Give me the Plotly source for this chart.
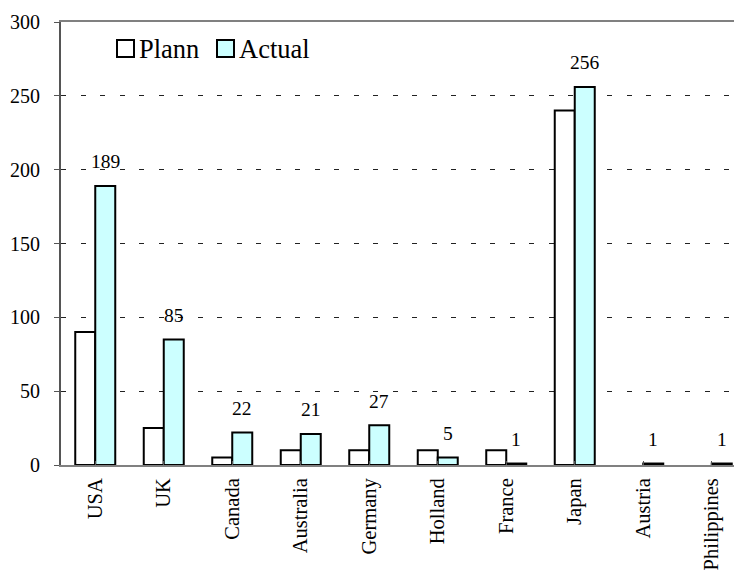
import plotly.graph_objects as go

categories = ["USA", "UK", "Canada", "Australia", "Germany", "Holland", "France", "Japan", "Austria", "Philippines"]
plann = [90, 25, 5, 10, 10, 10, 10, 240, 0, 0]
actual = [189, 85, 22, 21, 27, 5, 1, 256, 1, 1]
y_ticks = [0, 50, 100, 150, 200, 250, 300]

FONT = "'Times New Roman', 'Liberation Serif', 'DejaVu Serif', serif"
BW = 0.292  # bar width in category units

xs = list(range(len(categories)))

fig = go.Figure()
fig.add_trace(go.Bar(
    x=xs, y=[v if v else None for v in plann], name="Plann", width=BW, offset=-BW,
    marker=dict(color="white", line=dict(color="black", width=2)),
))
fig.add_trace(go.Bar(
    x=xs, y=[v if v else None for v in actual], name="Actual", width=BW, offset=0,
    marker=dict(color="#CCFFFF", line=dict(color="black", width=2)),
))

for i, v in enumerate(actual):
    fig.add_annotation(
        x=i + BW / 2, y=v, text=str(v), showarrow=False,
        yanchor="middle", yshift=24,
        font=dict(family=FONT, size=19.5, color="black"),
    )

# manual legend
legend_items = [("Plann", "white", 117, 137), ("Actual", "#CCFFFF", 217, 237)]
for name, col, sx, tx in legend_items:
    fig.add_shape(type="rect", xref="paper", yref="paper",
                  x0=(sx - 61) / 673, x1=(sx + 17 - 61) / 673,
                  y0=(465 - 57) / 443, y1=(465 - 40) / 443,
                  line=dict(color="black", width=2), fillcolor=col)
    fig.add_annotation(xref="paper", yref="paper",
                       x=(tx - 61) / 673, y=(465 - 49) / 443,
                       text=name, showarrow=False, xanchor="left", yanchor="middle",
                       font=dict(family=FONT, size=26.5, color="black"))

fig.update_layout(
    width=734, height=573,
    margin=dict(l=61, r=0, t=22, b=108, autoexpand=False),
    paper_bgcolor="white", plot_bgcolor="white",
    showlegend=False,
    font=dict(family=FONT, color="black"),
    barmode="overlay",
    xaxis=dict(
        range=[-0.5, -0.5 + 673 / 68.5],
        tickmode="array", tickvals=xs, ticktext=categories,
        tickangle=-90, tickfont=dict(family=FONT, size=20.5, color="black"),
        ticklabelstandoff=3, automargin=False,
        showline=True, linecolor="#808080", linewidth=2, mirror=True,
        ticks="inside", ticklen=4, tickcolor="#555555", tickson="boundaries",
        showgrid=False, zeroline=False,
    ),
    yaxis=dict(
        range=[0, 300], tickvals=y_ticks, automargin=False,
        tickfont=dict(family=FONT, size=20, color="black"),
        showline=True, linecolor="#555555", linewidth=2,
        ticks="outside", ticklen=5, tickcolor="#555555",
        ticklabelstandoff=10,
        showgrid=True, gridcolor="#222222", gridwidth=1, griddash="5px,14.5px",
        zeroline=False,
    ),
)

fig.write_html("out.html")
